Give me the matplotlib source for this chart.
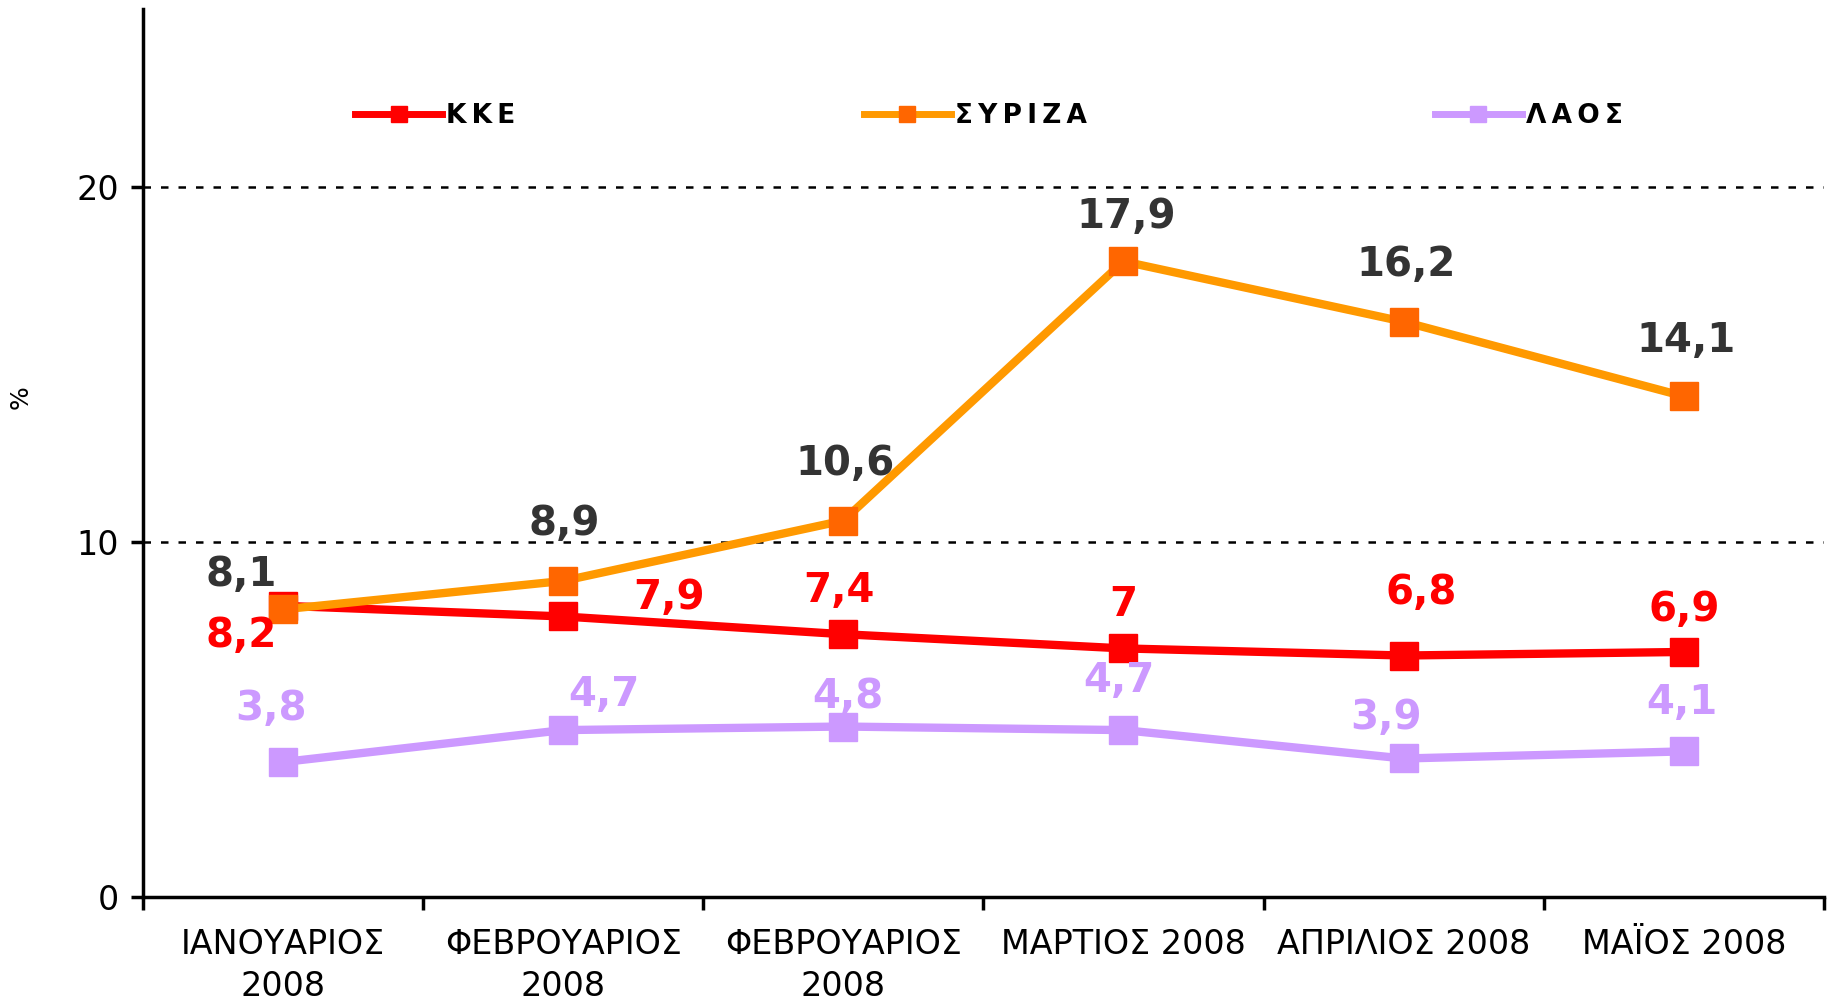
import numpy as np
import matplotlib
matplotlib.use('Agg')
from matplotlib import pyplot as plt
from matplotlib import font_manager

# data
Months = ['ΙΑΝΟΥΑΡΙΟΣ\n2008', 'ΦΕΒΡΟΥΑΡΙΟΣ\n2008', 'ΦΕΒΡΟΥΑΡΙΟΣ\n2008',
          'ΜΑΡΤΙΟΣ 2008', 'ΑΠΡΙΛΙΟΣ 2008', 'ΜΑΪΟΣ 2008']
KKE = [8.2, 7.9, 7.4, 7.0, 6.8, 6.9]
SYRIZA = [8.1, 8.9, 10.6, 17.9, 16.2, 14.1]
LAOS = [3.8, 4.7, 4.8, 4.7, 3.9, 4.1]
Series_Names = ['ΚΚΕ', 'ΣΥΡΙΖΑ', 'ΛΑΟΣ']


def Pick_Font(Names):
	Available = set(f.name for f in font_manager.fontManager.ttflist)
	Picked = [n for n in Names if n in Available]
	return Picked + ['DejaVu Sans']

Narrow = Pick_Font(['Liberation Sans Narrow', 'DejaVu Sans Condensed'])
Bold = Pick_Font(['DejaVu Sans Condensed'])


def Fmt(v):
	s = ('%.1f' % v).replace('.', ',')
	return s[:-2] if s.endswith(',0') else s

def Spaced(Name):
	# the legend text in the reference is letter spaced
	return '\u2009'.join(Name)

# label offsets (points) relative to each marker
Offs_SYRIZA = [(-30, 25), (1, 41), (1, 41), (2, 32), (2, 41), (2, 40)]
Offs_KKE = [(-30, -22), (76, 13), (-3, 31), (0, 31), (13, 45), (0, 30)]
Offs_LAOS = [(-9, 38), (29, 25), (3, 21), (-3, 35), (-13, 29), (-1, 35)]

Fig = plt.figure(figsize=(18.33, 10.02), dpi=100)
Ax = Fig.add_axes([0.078, 0.1048, 0.917, 0.886])
X = np.arange(len(Months))

Ax.plot(X, KKE, color='#FF0000', lw=6, marker='s', ms=20, mfc='#FF0000', mec='#FF0000',
	label=Spaced(Series_Names[0]), zorder=3)
Ax.plot(X, SYRIZA, color='#FF9900', lw=6, marker='s', ms=20, mfc='#FF6600', mec='#FF6600',
	label=Spaced(Series_Names[1]), zorder=4)
Ax.plot(X, LAOS, color='#CC99FF', lw=6, marker='s', ms=20, mfc='#CC99FF', mec='#CC99FF',
	label=Spaced(Series_Names[2]), zorder=3)

for Vals, Offs, Col in [(SYRIZA, Offs_SYRIZA, '#333333'), (KKE, Offs_KKE, '#FF0000'),
		(LAOS, Offs_LAOS, '#CC99FF')]:
	for i, v in enumerate(Vals):
		Ax.annotate(Fmt(v), (X[i], v), xytext=Offs[i], textcoords='offset points',
			ha='center', va='center', fontsize=29, fontweight='bold', color=Col,
			family=Bold, zorder=5)

Ax.set_xlim(-0.5, len(Months) - 0.5)
Ax.set_ylim(0, 25)
Ax.set_yticks([0, 10, 20])
Ax.set_xticks(X)
Ax.set_xticklabels(Months, family=Narrow, fontsize=24, linespacing=1.35)
Ax.set_xticks(np.append(X - 0.5, X[-1] + 0.5), minor=True)
Ax.tick_params(axis='x', which='major', length=0, pad=22)
Ax.tick_params(axis='x', which='minor', length=9, width=2.5)
Ax.tick_params(axis='y', length=9, width=2.5, labelsize=24, pad=8)
for t in Ax.get_yticklabels():
	t.set_family(Narrow)

for yv in [10, 20]:
	Ax.axhline(yv, color='black', lw=1.8, ls=(0, (3, 4)), zorder=1)

for s in ['top', 'right']:
	Ax.spines[s].set_visible(False)
for s in ['left', 'bottom']:
	Ax.spines[s].set_linewidth(2.5)

Ax.set_ylabel('%', fontsize=18, family=Narrow, va='center')
Ax.yaxis.set_label_coords(-0.0726, 0.563)

Leg = Ax.legend(ncol=3, loc='center left', bbox_to_anchor=(0.112, 0.88), frameon=False,
	handlelength=3.3, handletextpad=0.15, columnspacing=13.2, markerscale=0.6,
	prop={'weight': 'bold', 'size': 19})
for h in Leg.get_lines():
	h.set_linewidth(5)

Fig.savefig('out.png', dpi=100)
